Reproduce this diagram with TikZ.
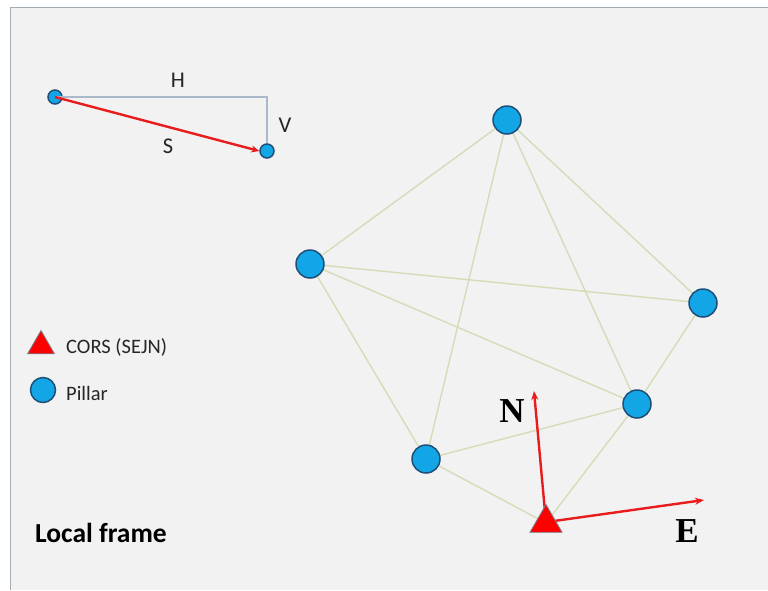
\documentclass[tikz,border=0pt]{standalone}
\usepackage{fontspec}
\setmainfont{Carlito}
\newfontfamily\axisfont{Liberation Serif}
\usetikzlibrary{shapes.geometric,arrows.meta}
\definecolor{bgpanel}{HTML}{F2F2F2}
\definecolor{panelrule}{HTML}{A3ABB3}
\definecolor{pillarfill}{HTML}{12A6E6}
\definecolor{pillaredge}{HTML}{1F4E79}
\definecolor{baseline}{HTML}{D6DBB8}
\definecolor{hvline}{HTML}{A9BACB}
\definecolor{arrowred}{HTML}{E81C1C}
\definecolor{textdark}{HTML}{262626}
\tikzset{
  pillar/.style={circle, fill=pillarfill, draw=pillaredge, line width=1.5pt, minimum size=#1, inner sep=0pt},
  pillar/.default=28pt,
  cors/.style={regular polygon, regular polygon sides=3, fill=red, draw=hvline!70!black, line width=0.8pt, minimum size=#1, inner sep=0pt},
  cors/.default=37pt,
  link/.style={draw=baseline, line width=1.4pt},
  redarrow/.style={draw=arrowred, line width=2.4pt, -{Stealth[length=9pt,width=7pt]}},
  lbl/.style={text=textdark, font=\fontsize{22.5}{26}\selectfont, inner sep=0pt},
  axislbl/.style={text=black, font=\axisfont\bfseries\fontsize{35}{38}\selectfont, inner sep=0pt}
}
\begin{document}
\begin{tikzpicture}[x=1pt, y=-1pt]
% panel background and its frame
\useasboundingbox (0,0) rectangle (768,590);
\fill[white] (0,0) rectangle (768,590);
\fill[bgpanel] (10,7) rectangle (768,590);
\draw[panelrule, line width=1.2pt] (10.5,590) -- (10.5,7.5) -- (768,7.5);

% slope distance sketch
\node[pillar=14pt] (A) at (55,97) {};
\node[pillar=14pt] (B) at (267,151) {};
\coordinate (C) at (267,97);
\draw[hvline, line width=1.2pt] (A.center) -- (C) -- (B.north);
\draw[redarrow, -{Stealth[length=8pt,width=7pt]}] (A.center) -- (B.west);
\node[lbl] (Hl) at (178,80) {H};
\node[lbl] (Vl) at (285,125) {V};
\node[lbl] (Sl) at (168,146) {S};

% legend
\node[cors=31pt] (LT) at (41,346) {};
\node[lbl, anchor=west, font=\fontsize{20.5}{24}\selectfont] (LTt) at (66,347) {CORS (SEJN)};
\node[pillar=25pt] (LP) at (43,390) {};
\node[lbl, anchor=west, font=\fontsize{20.5}{24}\selectfont] (LPt) at (66,393) {Pillar};
\node[text=black, font=\bfseries\fontsize{27.5}{30}\selectfont, anchor=west, inner sep=0pt] (LF) at (35,533) {Local frame};

% network stations
\coordinate (P1c) at (507,120);
\coordinate (P2c) at (310,264);
\coordinate (P3c) at (703,303);
\coordinate (P4c) at (637,404);
\coordinate (P5c) at (426,459);
\coordinate (Kc) at (546,523);

\draw[link] (P2c) -- (P1c) -- (P3c) -- (P4c) -- (P1c) -- (P5c) -- (P2c) -- (P3c);
\draw[link] (P2c) -- (P4c) -- (P5c) -- (Kc) -- (P4c);

% local north/east axes
\coordinate (Ntip) at (534,391);
\coordinate (Etip) at (704,500);
\draw[redarrow] (Kc) -- (Ntip);
\draw[redarrow] (Kc) ++(8,-2) -- (Etip);

\node[pillar] (P1) at (P1c) {};
\node[pillar] (P2) at (P2c) {};
\node[pillar] (P3) at (P3c) {};
\node[pillar] (P4) at (P4c) {};
\node[pillar] (P5) at (P5c) {};
\node[cors] (K) at (Kc) {};

\node[axislbl] (Nl) at (512,411) {N};
\node[axislbl] (El) at (687,531) {E};
\end{tikzpicture}
\end{document}
